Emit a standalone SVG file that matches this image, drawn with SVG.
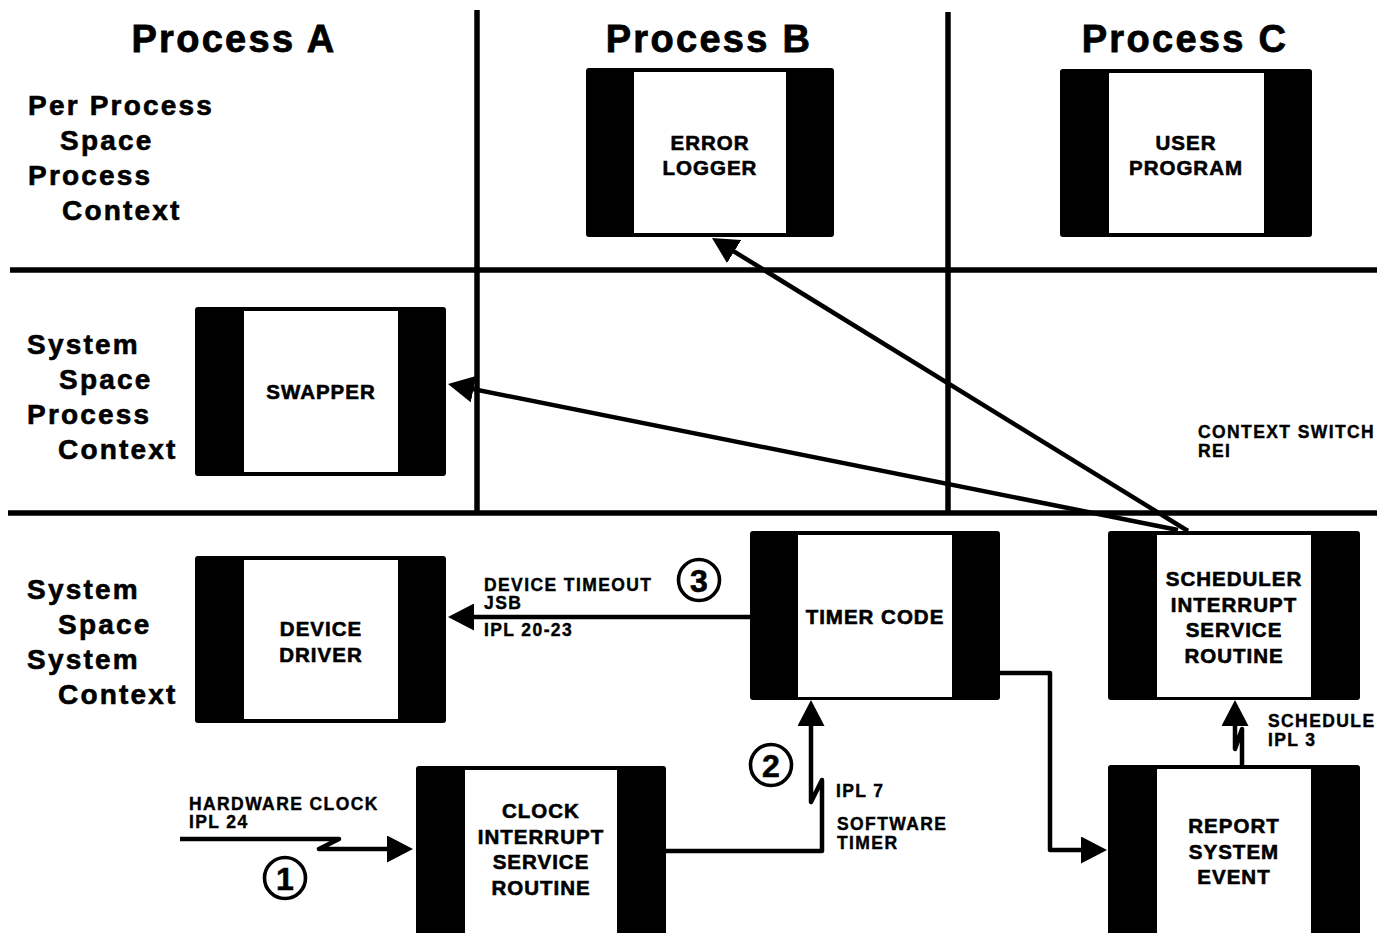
<svg xmlns="http://www.w3.org/2000/svg" width="1377" height="933" viewBox="0 0 1377 933">
  <style>
    text { font-family: "Liberation Sans", Arial, sans-serif; font-weight: bold; fill: #000; stroke: #000; stroke-width: 0.6px; }
    .hdr { font-size: 38px; letter-spacing: 2.3px; text-anchor: middle; stroke-width: 0.8px; }
    .row { font-size: 28px; letter-spacing: 2.2px; }
    .nt { font-size: 20.5px; letter-spacing: 1px; text-anchor: middle; }
    .lbl { font-size: 17.5px; letter-spacing: 1.4px; stroke-width: 0.4px; }
    .num { font-size: 32px; text-anchor: middle; }
    .grid { stroke: #000; stroke-width: 5.5; fill: none; }
    .outer { fill: #000; }
    .inner { fill: #fff; }
    .wire { stroke: #000; stroke-width: 4.5; fill: none; stroke-linejoin: round; }
    .ring { stroke: #000; stroke-width: 3.6; fill: #fff; }
  </style>
  <defs>
    <marker id="arrow" markerUnits="userSpaceOnUse" markerWidth="27" markerHeight="27" refX="16" refY="13.5" orient="auto">
      <path d="M0,0 L26,13.5 L0,27 Z" fill="#000"/>
    </marker>
  </defs>
  <rect width="1377" height="933" fill="#fff"/>

  <!-- lane grid -->
  <g id="grid">
    <line class="grid" x1="477" y1="10" x2="477" y2="512"/>
    <line class="grid" x1="948" y1="12" x2="948" y2="512"/>
    <line class="grid" x1="10" y1="270" x2="1377" y2="270"/>
    <line class="grid" x1="8" y1="513" x2="1377" y2="513"/>
  </g>

  <!-- column headers -->
  <g id="headers">
    <text class="hdr" x="234" y="52">Process A</text>
    <text class="hdr" x="709" y="52">Process B</text>
    <text class="hdr" x="1185" y="52">Process C</text>
  </g>

  <!-- row labels -->
  <g id="row-labels">
    <text class="row" x="28" y="115">Per Process</text>
    <text class="row" x="60" y="150">Space</text>
    <text class="row" x="28" y="185">Process</text>
    <text class="row" x="62" y="220">Context</text>

    <text class="row" x="27" y="354">System</text>
    <text class="row" x="59" y="389">Space</text>
    <text class="row" x="27" y="424">Process</text>
    <text class="row" x="58" y="459">Context</text>

    <text class="row" x="27" y="599">System</text>
    <text class="row" x="58" y="634">Space</text>
    <text class="row" x="27" y="669">System</text>
    <text class="row" x="58" y="704">Context</text>
  </g>

  <!-- nodes -->
  <g id="error-logger">
    <rect class="outer" x="586" y="68" width="248" height="169" rx="3"/>
    <rect class="inner" x="634" y="72" width="152" height="161"/>
    <text class="nt" x="710" y="150">ERROR</text>
    <text class="nt" x="710" y="175">LOGGER</text>
  </g>
  <g id="user-program">
    <rect class="outer" x="1060" y="69" width="252" height="168" rx="3"/>
    <rect class="inner" x="1109" y="73" width="155" height="160"/>
    <text class="nt" x="1186" y="150">USER</text>
    <text class="nt" x="1186" y="175">PROGRAM</text>
  </g>
  <g id="swapper">
    <rect class="outer" x="195" y="307" width="251" height="169" rx="3"/>
    <rect class="inner" x="244" y="311" width="154" height="161"/>
    <text class="nt" x="321" y="399">SWAPPER</text>
  </g>
  <g id="device-driver">
    <rect class="outer" x="195" y="556" width="251" height="167" rx="3"/>
    <rect class="inner" x="244" y="560" width="154" height="159"/>
    <text class="nt" x="321" y="636">DEVICE</text>
    <text class="nt" x="321" y="662">DRIVER</text>
  </g>
  <g id="timer-code">
    <rect class="outer" x="750" y="531" width="250" height="169" rx="3"/>
    <rect class="inner" x="798" y="535" width="154" height="162"/>
    <text class="nt" x="875" y="624">TIMER CODE</text>
  </g>
  <g id="scheduler-isr">
    <rect class="outer" x="1108" y="531" width="252" height="169" rx="3"/>
    <rect class="inner" x="1157" y="535" width="154" height="162"/>
    <text class="nt" x="1234" y="586">SCHEDULER</text>
    <text class="nt" x="1234" y="612">INTERRUPT</text>
    <text class="nt" x="1234" y="637">SERVICE</text>
    <text class="nt" x="1234" y="663">ROUTINE</text>
  </g>
  <g id="clock-isr">
    <rect class="outer" x="416" y="766" width="250" height="175" rx="3"/>
    <rect class="inner" x="465" y="770" width="152" height="170"/>
    <text class="nt" x="541" y="818">CLOCK</text>
    <text class="nt" x="541" y="844">INTERRUPT</text>
    <text class="nt" x="541" y="869">SERVICE</text>
    <text class="nt" x="541" y="895">ROUTINE</text>
  </g>
  <g id="report-event">
    <rect class="outer" x="1108" y="765" width="252" height="176" rx="3"/>
    <rect class="inner" x="1157" y="769" width="154" height="170"/>
    <text class="nt" x="1234" y="833">REPORT</text>
    <text class="nt" x="1234" y="859">SYSTEM</text>
    <text class="nt" x="1234" y="884">EVENT</text>
  </g>

  <!-- connectors -->
  <g id="connectors">
    <path class="wire" d="M1178,530 L457.8,386" marker-end="url(#arrow)"/>
    <path class="wire" d="M1188,531 L720.5,243.2" marker-end="url(#arrow)"/>
    <path class="wire" d="M750,617 H458" marker-end="url(#arrow)"/>
    <path class="wire" d="M1000,673 H1050 V850 H1097" marker-end="url(#arrow)"/>
    <path class="wire" d="M666,851 H822 V780 L811,802 V710" marker-end="url(#arrow)"/>
    <path class="wire" d="M1242,765 V729 L1235,749 V710" marker-end="url(#arrow)"/>
    <path class="wire" d="M180,839 H339 L319,849 H403" marker-end="url(#arrow)"/>
  </g>

  <!-- connector labels -->
  <g id="labels">
    <text class="lbl" x="189" y="810">HARDWARE CLOCK</text>
    <text class="lbl" x="189" y="828">IPL 24</text>
    <text class="lbl" x="484" y="591">DEVICE TIMEOUT</text>
    <text class="lbl" x="484" y="609">JSB</text>
    <text class="lbl" x="484" y="636">IPL 20-23</text>
    <text class="lbl" x="836" y="797">IPL 7</text>
    <text class="lbl" x="837" y="830">SOFTWARE</text>
    <text class="lbl" x="837" y="849">TIMER</text>
    <text class="lbl" x="1268" y="727">SCHEDULE</text>
    <text class="lbl" x="1268" y="746">IPL 3</text>
    <text class="lbl" x="1198" y="438">CONTEXT SWITCH</text>
    <text class="lbl" x="1198" y="457">REI</text>
  </g>

  <!-- step markers -->
  <g id="steps">
    <circle class="ring" cx="285" cy="878" r="20.5"/>
    <text class="num" x="285" y="890">1</text>
    <circle class="ring" cx="771" cy="765" r="20.5"/>
    <text class="num" x="771" y="777">2</text>
    <circle class="ring" cx="699" cy="580" r="20.5"/>
    <text class="num" x="699" y="592">3</text>
  </g>
</svg>
